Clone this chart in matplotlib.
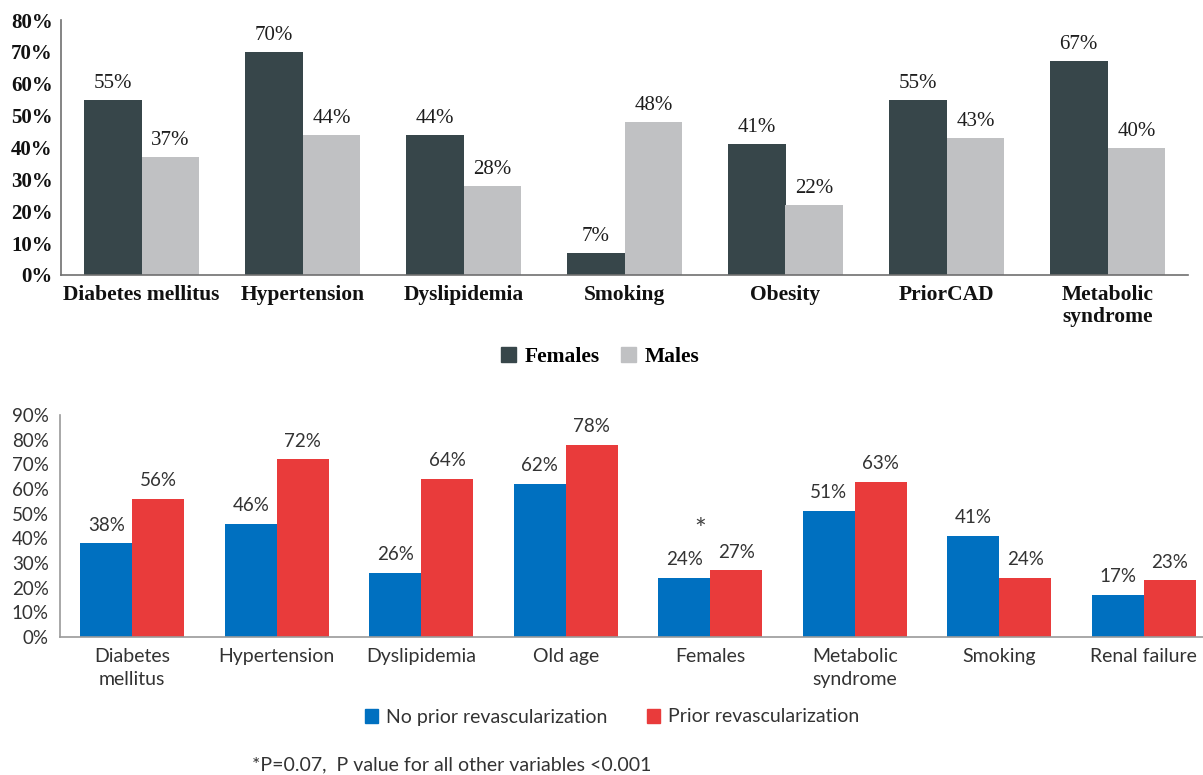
import numpy as np
import matplotlib.pyplot as plt
from matplotlib.patches import Rectangle

# risk factors by sex
sex_cats = ["Diabetes mellitus", "Hypertension", "Dyslipidemia", "Smoking",
            "Obesity", "PriorCAD", "Metabolic\nsyndrome"]
females = [55, 70, 44, 7, 41, 55, 67]
males = [37, 44, 28, 48, 22, 43, 40]

# risk factors by prior revascularization
rev_cats = ["Diabetes\nmellitus", "Hypertension", "Dyslipidemia", "Old age",
            "Females", "Metabolic\nsyndrome", "Smoking", "Renal failure"]
no_prior = [38, 46, 26, 62, 24, 51, 41, 17]
prior = [56, 72, 64, 78, 27, 63, 24, 23]

W, H = 1203, 775
fig = plt.figure(figsize=(W / 100, H / 100), dpi=100)

serif = "Liberation Serif"
sans = "Lato"

# ---- top chart
ax1 = fig.add_axes([61 / W, 1 - 275 / H, 1127 / W, 255 / H])
x = np.arange(len(sex_cats))
bw = 0.36
dark, light = "#37464a", "#c0c1c3"
b1 = ax1.bar(x - bw / 2, females, bw, color=dark)
b2 = ax1.bar(x + bw / 2, males, bw, color=light)
for bars, vals in ((b1, females), (b2, males)):
    for r, v in zip(bars, vals):
        ax1.annotate(f"{v}%", (r.get_x() + r.get_width() / 2, v),
                     xytext=(0, 5), textcoords="offset points",
                     ha="center", va="bottom", fontsize=15,
                     family=serif, color="#1e1e1e")
ax1.set_xlim(-0.5, len(sex_cats) - 0.5)
ax1.set_ylim(0, 80)
ax1.set_yticks(range(0, 81, 10))
ax1.set_yticklabels([f"{t}%" for t in range(0, 81, 10)],
                    fontsize=15, family=serif, fontweight="bold")
ax1.set_xticks(x)
ax1.set_xticklabels(sex_cats, fontsize=15.5, family=serif,
                    fontweight="bold", linespacing=1.15)
ax1.tick_params(axis="x", length=0, pad=7, colors="#111111")
ax1.tick_params(axis="y", length=0, pad=6, colors="#111111")
for s in ("top", "right"):
    ax1.spines[s].set_visible(False)
for s in ("left", "bottom"):
    ax1.spines[s].set_color("#6f6f6f")
    ax1.spines[s].set_linewidth(1.2)

sq = dict(handlelength=0.7, handleheight=0.7, handletextpad=0.4,
          frameon=False)
fig.legend([Rectangle((0, 0), 1, 1, color=dark),
            Rectangle((0, 0), 1, 1, color=light)],
           ["Females", "Males"], loc="center", ncol=2,
           bbox_to_anchor=(600 / W, 1 - 357 / H), columnspacing=1.0,
           prop=dict(family=serif, weight="bold", size=15.5), **sq)

# ---- bottom chart
ax2 = fig.add_axes([60 / W, 1 - 637 / H, 1156 / W, 222 / H])
x2 = np.arange(len(rev_cats))
bw2 = 0.36
blue, red = "#0070c0", "#e93b3b"
c1 = ax2.bar(x2 - bw2 / 2, no_prior, bw2, color=blue)
c2 = ax2.bar(x2 + bw2 / 2, prior, bw2, color=red)
for bars, vals in ((c1, no_prior), (c2, prior)):
    for r, v in zip(bars, vals):
        ax2.annotate(f"{v}%", (r.get_x() + r.get_width() / 2, v),
                     xytext=(0, 7), textcoords="offset points",
                     ha="center", va="bottom", fontsize=13.5,
                     family=sans, color="#333333")
ax2.text(rev_cats.index("Females") - 0.07, 43, "*", ha="center",
         va="center", fontsize=20, family=sans, color="#444444")
ax2.set_xlim(-0.5, len(rev_cats) - 0.5)
ax2.set_ylim(0, 90)
ax2.set_yticks(range(0, 91, 10))
ax2.set_yticklabels([f"{t}%" for t in range(0, 91, 10)],
                    fontsize=13.5, family=sans)
ax2.set_xticks(x2)
ax2.set_xticklabels(rev_cats, fontsize=14, family=sans, linespacing=1.45)
ax2.tick_params(length=0, pad=8, colors="#333333")
for s in ("top", "right"):
    ax2.spines[s].set_visible(False)
for s in ("left", "bottom"):
    ax2.spines[s].set_color("#9a9a9a")
    ax2.spines[s].set_linewidth(1.2)

fig.legend([Rectangle((0, 0), 1, 1, color=blue),
            Rectangle((0, 0), 1, 1, color=red)],
           ["No prior revascularization", "Prior revascularization"],
           loc="center", ncol=2, bbox_to_anchor=(612 / W, 1 - 717 / H),
           columnspacing=2.0, labelcolor="#333333",
           prop=dict(family=sans, size=14), **sq)

fig.text(252 / W, 1 - 765 / H,
         "*P=0.07,  P value for all other variables <0.001",
         ha="left", va="center", fontsize=14, family=sans, color="#333333")

fig.savefig("out.png", dpi=100)
